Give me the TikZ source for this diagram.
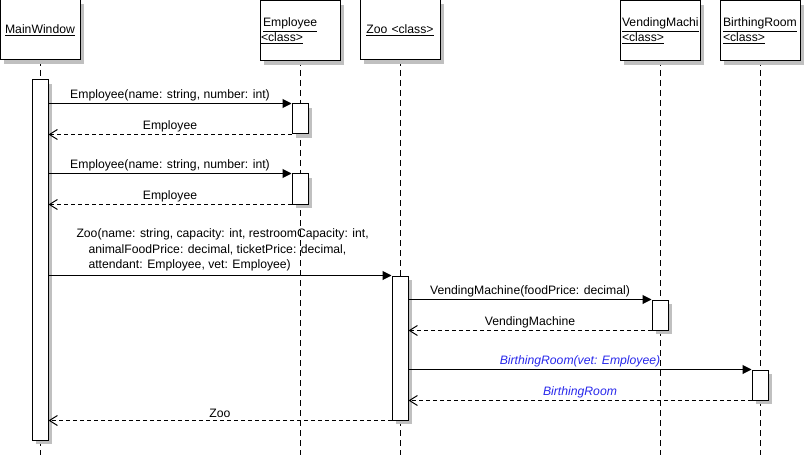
\documentclass[tikz,border=0pt]{standalone}
\usepackage{fontspec}
\setmainfont{Liberation Sans}
\usetikzlibrary{arrows.meta,shadows}
\definecolor{shadowgray}{RGB}{192,192,192}
\definecolor{msgblue}{RGB}{40,40,235}
\begin{document}
\begin{tikzpicture}[x=1pt,y=-1pt,
  font=\fontsize{12.2}{15}\selectfont,
  line width=1pt,
  shade box/.style={drop shadow={shadow xshift=4pt,shadow yshift=-4pt,fill=shadowgray,opacity=1}},
  head/.style={draw, fill=white, shade box, minimum width=80pt, minimum height=60pt,
    text width=78pt, inner xsep=1pt, inner ysep=0pt, align=left},
  head1/.style={head, align=center},
  act/.style={draw, fill=white, shade box, minimum width=16pt, inner sep=0pt},
  lifeline/.style={dash pattern=on 6pt off 4pt},
  call/.style={-{Triangle[length=9pt,width=9pt]}},
  ret/.style={dash pattern=on 4pt off 3pt, -{Straight Barb[length=8pt,width=10pt]}},
  lbl/.style={above, inner sep=2pt},
  blue lbl/.style={above, inner sep=2pt, text=msgblue, font=\fontsize{12.2}{15}\selectfont\itshape}]
\useasboundingbox (0,0) rectangle (805,465);

% lifelines
\draw[lifeline] (40,60) -- (40,455);
\draw[lifeline] (300,60) -- (300,455);
\draw[lifeline] (400,60) -- (400,455);
\draw[lifeline] (660,60) -- (660,455);
\draw[lifeline] (760,60) -- (760,455);

% heads
\node[head1] (mw) at (40,30) {\underline{MainWindow}};
\node[head] (emp) at (300,31) {\hspace*{2pt}\underline{Employee}\\\underline{<class>}};
\node[head1] (zoo) at (400,30) {\underline{Zoo <class>}};
\node[head] (vm) at (660,31) {\hspace*{1pt}\underline{VendingMachi}\\\hspace*{1pt}\underline{<class>}};
\node[head] (br) at (760,31) {\hspace*{2pt}\underline{BirthingRoom}\\\hspace*{2pt}\underline{<class>}};

% activations
\node[act, minimum height=360pt] (mwa) at (40,260) {};
\node[act, minimum height=30pt] (ea1) at (300,119) {};
\node[act, minimum height=30pt] (ea2) at (300,189) {};
\node[act, minimum height=144pt] (za) at (400,348) {};
\node[act, minimum height=30pt] (vma) at (660,315) {};
\node[act, minimum height=30pt] (bra) at (760,385) {};

% messages
\draw[call] (mwa.east |- ea1.north) -- (ea1.north west)
  node[lbl, midway] {Employee(name: string, number: int)};
\draw[ret] (ea1.south west) -- (mwa.east |- ea1.south)
  node[lbl, midway] {Employee};
\draw[call] (mwa.east |- ea2.north) -- (ea2.north west)
  node[lbl, midway] {Employee(name: string, number: int)};
\draw[ret] (ea2.south west) -- (mwa.east |- ea2.south)
  node[lbl, midway] {Employee};

\draw[call] (mwa.east |- za.north) -- (za.north west);
\node[anchor=south west, align=left, inner sep=0pt, font=\fontsize{12.2}{15.5}\selectfont]
  (zlbl) at (76,272) {Zoo(name: string, capacity: int, restroomCapacity: int,\\
  \hspace*{12pt}animalFoodPrice: decimal, ticketPrice: decimal,\\
  \hspace*{12pt}attendant: Employee, vet: Employee)};

\draw[call] (za.east |- vma.north) -- (vma.north west)
  node[lbl, midway] {VendingMachine(foodPrice: decimal)};
\draw[ret] (vma.south west) -- (za.east |- vma.south)
  node[lbl, midway] {VendingMachine};

\draw[call] (za.east |- bra.north) -- (bra.north west)
  node[blue lbl, midway] {BirthingRoom(vet: Employee)};
\draw[ret] (bra.south west) -- (za.east |- bra.south)
  node[blue lbl, midway] {BirthingRoom};

\draw[ret] (za.south west) -- (mwa.east |- za.south)
  node[lbl, midway] {Zoo};
\end{tikzpicture}
\end{document}
